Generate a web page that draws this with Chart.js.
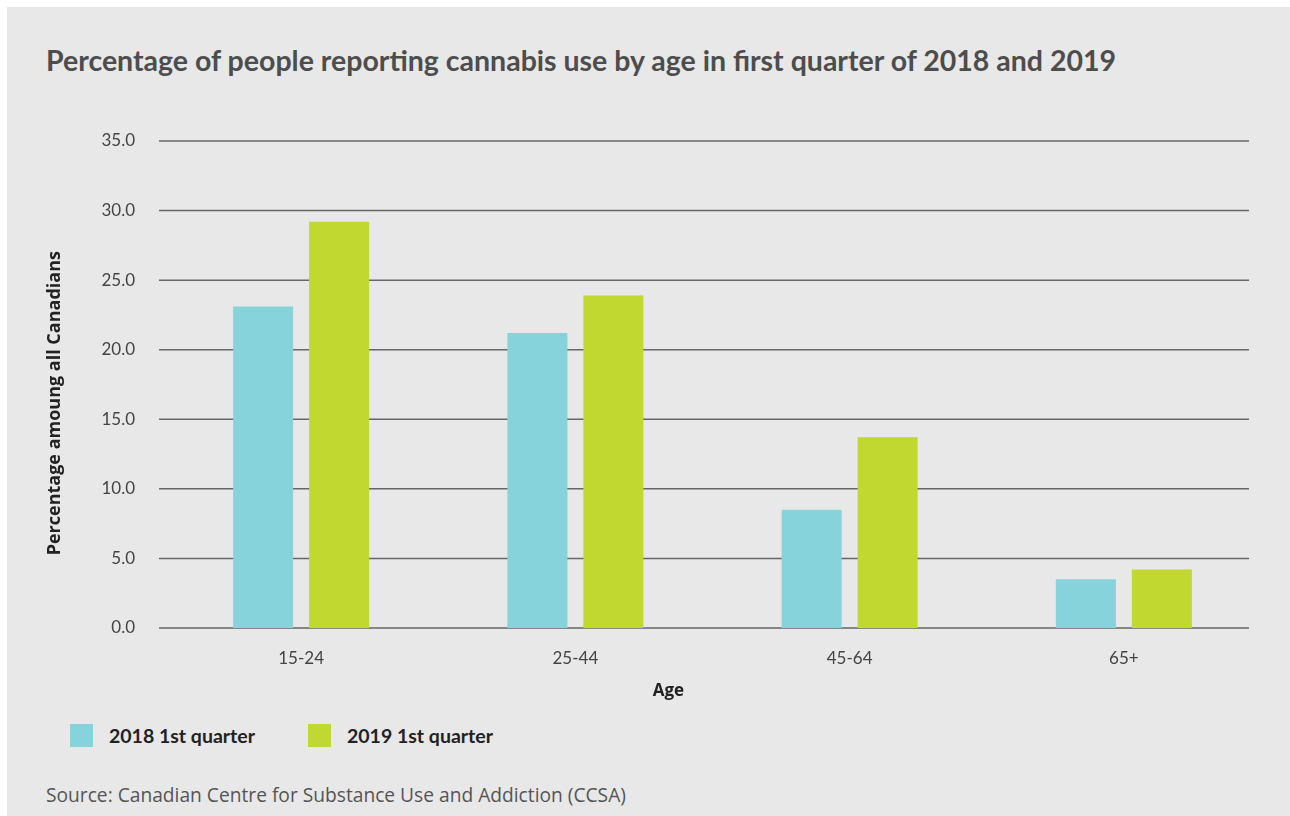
<!DOCTYPE html>
<html>
<head>
<meta charset="utf-8">
<script src="https://cdn.jsdelivr.net/npm/chart.js@4"></script>
<style>
  body { margin: 0; background: #fff; }
  #panel { position: absolute; left: 7px; top: 7px; width: 1283px; height: 809px; background: #e8e8e8; font-family: Lato, sans-serif; }
  #titulo { position: absolute; left: 39px; top: 36px; margin: 0; font-size: 28.5px; font-weight: 700; color: #4d4d4d; white-space: nowrap; }
  #wrap { position: absolute; left: 0; top: 0; width: 1283px; height: 700px; }
  #leyenda { position: absolute; left: 63px; top: 717px; height: 23px; }
  .item { position: absolute; top: 0; height: 23px; white-space: nowrap; }
  .caja { position: absolute; left: 0; top: 0; width: 23px; height: 23px; }
  .txt { position: absolute; left: 39px; top: 0; line-height: 23px; font-size: 19.5px; font-weight: 700; color: #222; }
  #fuente { position: absolute; left: 39px; top: 774px; font-family: "Open Sans", sans-serif; font-size: 19.2px; color: #555; white-space: nowrap; }
</style>
</head>
<body>
<div id="panel">
  <h1 id="titulo">Percentage of people reporting cannabis use by age in first quarter of 2018 and 2019</h1>
  <div id="wrap"><canvas id="graficoConsumo"></canvas></div>
  <div id="leyenda"></div>
  <div id="fuente">Source: Canadian Centre for Substance Use and Addiction (CCSA)</div>
</div>
<script>
const categorias = ['15-24', '25-44', '45-64', '65+'];
const serie2018 = [23.1, 21.2, 8.5, 3.5];
const serie2019 = [29.2, 23.9, 13.7, 4.2];
const nombres = ['2018 1st quarter', '2019 1st quarter'];
const colores = ['#86d3db', '#c0d830'];
const yMin = 0;
const yMax = 35;
const yPaso = 5;

// lineas de la grilla: empiezan un poco antes del area y terminan antes del borde
const grillaPlugin = {
  id: 'grilla',
  beforeDatasetsDraw(chart) {
    const ctx = chart.ctx;
    const y = chart.scales.y;
    ctx.save();
    ctx.strokeStyle = '#666';
    ctx.lineWidth = 1.5;
    y.ticks.forEach((t) => {
      const py = y.getPixelForValue(t.value);
      ctx.beginPath();
      ctx.moveTo(152, py);
      ctx.lineTo(1242, py);
      ctx.stroke();
    });
    ctx.restore();
  }
};

// los titulos de ejes no van centrados en el area, se corren con espacios
const tituloX = 'Age' + ' '.repeat(20);
const tituloY = 'Percentage amoung all Canadians' + ' '.repeat(8);

const ctx = document.getElementById('graficoConsumo').getContext('2d');
const miGrafico = new Chart(ctx, {
  type: 'bar',
  data: {
    labels: categorias,
    datasets: [
      { label: nombres[0], data: serie2018, backgroundColor: colores[0], categoryPercentage: 0.554, barPercentage: 0.79 },
      { label: nombres[1], data: serie2019, backgroundColor: colores[1], categoryPercentage: 0.554, barPercentage: 0.79 },
    ],
  },
  options: {
    responsive: true,
    maintainAspectRatio: false,
    animation: false,
    layout: { padding: { left: 0, top: 134, right: 29, bottom: 0 } },
    plugins: {
      legend: { display: false },
      tooltip: { enabled: false },
    },
    scales: {
      x: {
        grid: { display: false, drawTicks: false },
        border: { display: false },
        ticks: { padding: 20, color: '#444', font: { family: 'Lato', size: 17 } },
        title: { display: true, text: tituloX, color: '#222', font: { family: 'Open Sans', size: 17, weight: 'bold' }, padding: { top: 0, bottom: 6 } },
        afterFit: (s) => { s.height = 79; },
      },
      y: {
        min: yMin,
        max: yMax,
        grid: { display: false, drawTicks: false },
        border: { display: false },
        ticks: { stepSize: yPaso, padding: 29, color: '#444', font: { family: 'Lato', size: 17 }, callback: (v) => v.toFixed(1) },
        title: { display: true, text: tituloY, color: '#222', font: { family: 'Open Sans', size: 18, weight: 'bold' }, padding: { top: 37, bottom: 0 } },
        afterFit: (s) => { s.width = 157; },
      },
    },
  },
  plugins: [grillaPlugin],
});

// leyenda con los colores de las series
const leyenda = document.getElementById('leyenda');
const posiciones = [0, 238];
nombres.forEach((n, i) => {
  const item = document.createElement('div');
  item.className = 'item';
  item.style.left = posiciones[i] + 'px';
  item.innerHTML = `<div class="caja" style="background:${colores[i]}"></div><div class="txt">${n}</div>`;
  leyenda.appendChild(item);
});
</script>
</body>
</html>
